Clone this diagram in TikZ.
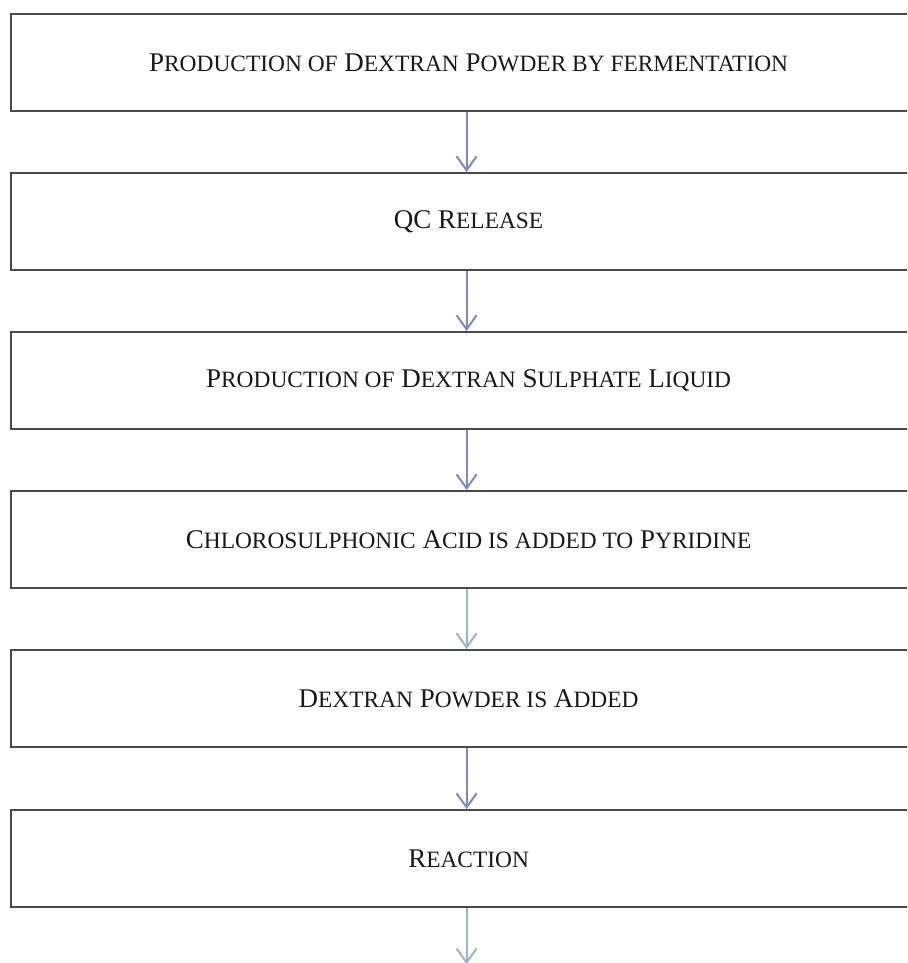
\documentclass[tikz,border=0pt]{standalone}
\usepackage{fontspec}
\setmainfont{Liberation Serif}
\usetikzlibrary{arrows.meta}
\definecolor{boxgray}{RGB}{75,75,75}
\definecolor{arrblue}{RGB}{120,140,190}
\definecolor{arrlight}{RGB}{150,180,212}
\newcommand\smc[1]{{\fontsize{23.4pt}{26pt}\selectfont #1}}
\tikzset{
  stepbox/.style={draw=boxgray, line width=2.2pt, minimum width=915pt, minimum height=97pt,
    inner sep=0pt, anchor=north west, font=\fontsize{27pt}{30pt}\selectfont, text=black!90},
  flowarrow/.style={draw=arrblue, line width=2pt, -{Straight Barb[length=14pt,width=20pt,line width=2pt]}}
}
\begin{document}
\begin{tikzpicture}[x=1pt,y=1pt]
\useasboundingbox (0,0) rectangle (907,-963);
\fill[white] (0,0) rectangle (907,-963);
\begin{scope}
\clip (0,0) rectangle (907,-963);
\node[stepbox] (b1) at (10,-13) {P\smc{RODUCTION OF} D\smc{EXTRAN} P\smc{OWDER BY FERMENTATION}};
\node[stepbox] (b2) at (10,-172) {QC R\smc{ELEASE}};
\node[stepbox] (b3) at (10,-331) {P\smc{RODUCTION OF} D\smc{EXTRAN} S\smc{ULPHATE} L\smc{IQUID}};
\node[stepbox] (b4) at (10,-490) {C\smc{HLOROSULPHONIC} A\smc{CID IS ADDED TO} P\smc{YRIDINE}};
\node[stepbox] (b5) at (10,-649) {D\smc{EXTRAN} P\smc{OWDER IS} A\smc{DDED}};
\node[stepbox] (b6) at (10,-809) {R\smc{EACTION}};
\coordinate (end) at ([yshift=-56pt]b6.south);
\draw[flowarrow] ([xshift=-2pt]b1.south) -- ([xshift=-2pt]b2.north);
\draw[flowarrow] ([xshift=-2pt]b2.south) -- ([xshift=-2pt]b3.north);
\draw[flowarrow] ([xshift=-2pt]b3.south) -- ([xshift=-2pt]b4.north);
\draw[flowarrow, draw=arrlight] ([xshift=-2pt]b4.south) -- ([xshift=-2pt]b5.north);
\draw[flowarrow] ([xshift=-2pt]b5.south) -- ([xshift=-2pt]b6.north);
\draw[flowarrow, draw=arrlight] ([xshift=-2pt]b6.south) -- ([xshift=-2pt]end);
\end{scope}
\end{tikzpicture}
\end{document}
